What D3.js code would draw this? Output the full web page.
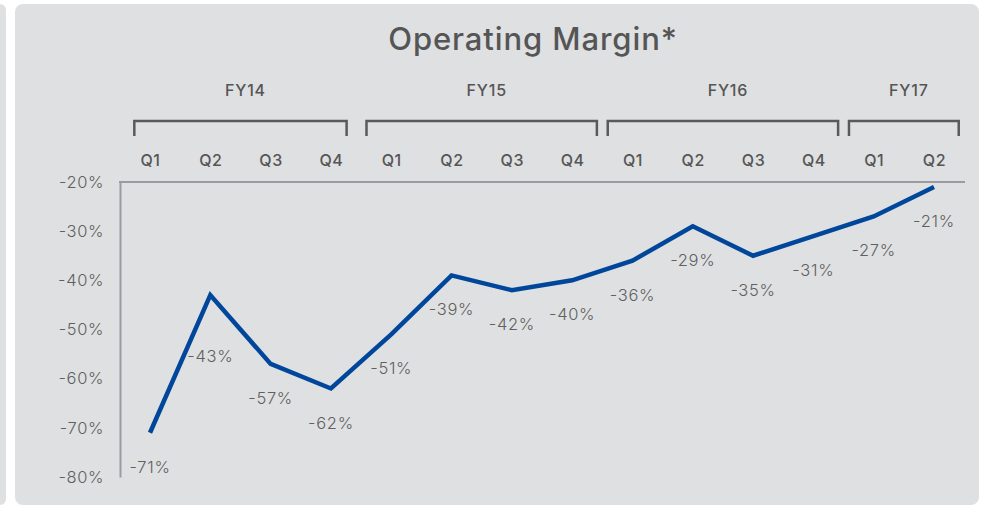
<!DOCTYPE html>
<html>
<head>
<meta charset="utf-8">
<script src="https://cdn.jsdelivr.net/npm/d3@7/dist/d3.min.js"></script>
<style>
  html, body { margin: 0; padding: 0; background: #fff; }
  svg { display: block; }
  text { font-family: Inter, "Open Sans", sans-serif; }
</style>
</head>
<body>
<svg id="chart" width="984" height="506"></svg>
<script>
// data
var fiscalYears = ["FY14", "FY14", "FY14", "FY14", "FY15", "FY15", "FY15", "FY15",
                   "FY16", "FY16", "FY16", "FY16", "FY17", "FY17"];
var quarters = ["Q1", "Q2", "Q3", "Q4", "Q1", "Q2", "Q3", "Q4",
                "Q1", "Q2", "Q3", "Q4", "Q1", "Q2"];
var margins = [-71, -43, -57, -62, -51, -39, -42, -40, -36, -29, -35, -31, -27, -21];
var yTicks = [-20, -30, -40, -50, -60, -70, -80];

var textColor = "#606060",
    darkText = "#555555",
    axisColor = "#9b9c9f",
    lineColor = "#00479b",
    panelColor = "#dfe0e2";

var svg = d3.select("#chart");

// panels
svg.append("rect")
    .attr("x", -12).attr("y", 4).attr("width", 18).attr("height", 501)
    .attr("rx", 6).attr("fill", panelColor);
svg.append("rect")
    .attr("x", 15).attr("y", 4).attr("width", 964).attr("height", 501)
    .attr("rx", 8).attr("fill", panelColor);

// title
svg.append("text")
    .attr("x", 533).attr("y", 50)
    .attr("text-anchor", "middle")
    .attr("font-size", 31)
    .attr("font-weight", 500)
    .attr("letter-spacing", 0.9)
    .attr("fill", darkText)
    .text("Operating Margin*");

var idx = d3.range(margins.length);

var x = d3.scalePoint()
    .domain(idx)
    .range([150, 934]);

var y = d3.scaleLinear()
    .domain([-80, -20])
    .range([477, 182]);

var step = x.step();

// y axis
var yAxis = svg.append("g")
    .attr("transform", "translate(120,0)")
    .call(d3.axisLeft(y).tickValues(yTicks).tickSize(0).tickPadding(16)
        .tickFormat(function (d) { return d + "%"; }));
yAxis.select(".domain").attr("stroke", axisColor).attr("stroke-width", 2);
yAxis.selectAll("text")
    .attr("font-size", 16.5)
    .attr("font-weight", 300)
    .attr("fill", textColor)
    .attr("letter-spacing", 0.6)
    .attr("font-family", null);

// top line with quarter labels
var xAxis = svg.append("g")
    .attr("transform", "translate(0," + y(-20) + ")")
    .call(d3.axisTop(x).tickSize(0).tickPadding(16)
        .tickFormat(function (d) { return quarters[d]; }));
xAxis.select(".domain")
    .attr("d", "M119,0H965")
    .attr("stroke", axisColor).attr("stroke-width", 2);
xAxis.selectAll("text")
    .attr("font-size", 16)
    .attr("font-weight", 500)
    .attr("fill", darkText)
    .attr("letter-spacing", 0.6)
    .attr("font-family", null);

// fiscal year brackets
var groups = d3.groups(idx, function (i) { return fiscalYears[i]; });
var brackets = svg.append("g");
groups.forEach(function (g, gi) {
    var first = g[1][0], last = g[1][g[1].length - 1],
        pad = gi === 0 ? step * 0.26 : step * 0.41,
        x0 = x(first) - pad,
        x1 = x(last) + pad,
        top = 121, bottom = 136;
    brackets.append("path")
        .attr("d", "M" + x0 + "," + bottom + "V" + top + "H" + x1 + "V" + bottom)
        .attr("fill", "none")
        .attr("stroke", "#5a5a5a")
        .attr("stroke-width", 2.5);
    brackets.append("text")
        .attr("x", (x0 + x1) / 2 + 5)
        .attr("y", 96)
        .attr("text-anchor", "middle")
        .attr("font-size", 16)
        .attr("font-weight", 500)
        .attr("letter-spacing", 0.8)
        .attr("fill", darkText)
        .text(g[0]);
});

// line
var line = d3.line()
    .x(function (d) { return x(d); })
    .y(function (d) { return y(margins[d]); });

svg.append("path")
    .datum(idx)
    .attr("d", line)
    .attr("fill", "none")
    .attr("stroke", lineColor)
    .attr("stroke-width", 4.5)
    .attr("stroke-linejoin", "miter");

// value labels, sitting under each point (the Q2 FY14 one sits lower)
var labelDrop = 40, labelExtra = {1: 27};
svg.append("g").selectAll("text")
    .data(idx)
    .join("text")
    .attr("x", function (d) { return x(d); })
    .attr("y", function (d) { return y(margins[d]) + labelDrop + (labelExtra[d] || 0); })
    .attr("text-anchor", "middle")
    .attr("font-size", 16.5)
    .attr("font-weight", 300)
    .attr("fill", textColor)
    .attr("letter-spacing", 0.7)
    .text(function (d) { return margins[d] + "%"; });
</script>
</body>
</html>
